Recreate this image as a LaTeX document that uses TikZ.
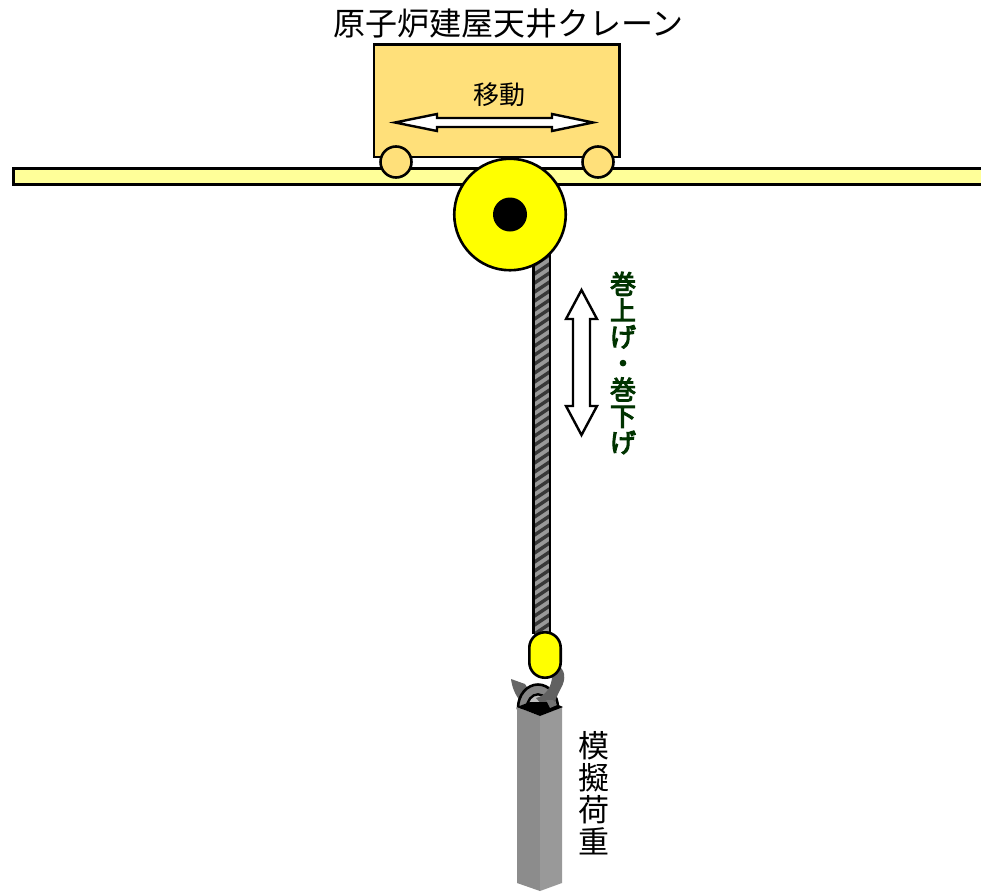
\documentclass[tikz,border=0pt]{standalone}
\usepackage{fontspec}
\setmainfont{Noto Sans CJK JP}
\newfontfamily\greenface[FakeBold=4]{Noto Sans CJK JP}
\tikzset{
  every picture/.style={x=1pt,y=-1pt},
  outl/.style={draw=black,line width=2.6pt,line join=miter},
  rail/.style={draw=black,line width=3pt,fill=railyellow},
  wheelc/.style={outl,fill=cartyellow},
  dblarrow/.style={draw=black,line width=2.4pt,fill=white,line join=miter},
  lab/.style={inner sep=0pt,text=black},
  vlab/.style={inner sep=0pt,align=center},
}
\definecolor{railyellow}{HTML}{FFFF99}
\definecolor{cartyellow}{HTML}{FFE07A}
\definecolor{pure}{HTML}{FFFF00}
\definecolor{dkgreen}{HTML}{003300}
\begin{document}
\begin{tikzpicture}
\useasboundingbox (0,0) rectangle (981,891);
% rail
\path[rail] (13.5,168.5) -- (990,168.5) -- (990,184.5) -- (13.5,184.5) -- cycle;
% cart
\node[outl,fill=cartyellow,minimum width=245.7pt,minimum height=112.2pt,inner sep=0pt,anchor=north west] (cart) at (372.7,43.5) {};
\node[wheelc,circle,minimum size=31pt,inner sep=0pt] (wheelL) at (396,162) {};
\node[wheelc,circle,minimum size=31pt,inner sep=0pt] (wheelR) at (598,162) {};
% rope
\begin{scope}
\clip (534,250) rectangle (550,634);
\fill[black!40] (533,250) rectangle (551,634);
\foreach \k in {0,...,44}{
  \draw[black!78,line width=3.4pt] (530,{250+\k*9}) -- (554,{250+\k*9-16});
}
\end{scope}
\draw[black,line width=2.6pt] (533.5,250) -- (533.5,634) (550,250) -- (550,634);
% drum
\node[outl,circle,fill=pure,minimum size=111.5pt,inner sep=0pt] (drum) at (510,214.5) {};
\node[circle,fill=black,minimum size=34pt,inner sep=0pt] (axle) at (510,214.5) {};
% double arrows
\path[dblarrow] (395,122.5) -- (437,114) -- (437,118) -- (552,118) -- (552,114) -- (593,122.5) -- (552,131) -- (552,127) -- (437,127) -- (437,131) -- cycle;
\path[dblarrow] (581.5,290) -- (597,319) -- (590,319) -- (590,406) -- (597,406) -- (581.5,435) -- (566,406) -- (573,406) -- (573,319) -- (566,319) -- cycle;
% hook barb
\fill[black!60] (511,679) -- (525,684) -- (530,692) -- (521,702) .. controls (515,695) and (512,687) .. (511,679) -- cycle;
% ring
\draw[black,line width=2.6pt,fill=black!48] (518,708) arc[start angle=180,end angle=360,x radius=20,y radius=23.5] -- (549,708) arc[start angle=360,end angle=180,x radius=11,y radius=13.5] -- cycle;
\draw[black,line width=2pt,fill=black!25] (527,708) arc[start angle=180,end angle=360,x radius=11,y radius=13.5] -- cycle;
% hook tail
\fill[black!62] (556,665) .. controls (566,668) and (566,680) .. (561,688) .. controls (557,696) and (554,702) .. (553,710) -- (545,708) -- (536,698) .. controls (546,696) and (552,686) .. (552,676) -- cycle;
% column
\fill[black!45] (517,707) -- (540,716) -- (540,891) -- (517,883) -- cycle;
\fill[black!40] (540,716) -- (562,707) -- (562,883) -- (540,891) -- cycle;
\fill[black] (517,707) -- (530,702) -- (552,702) -- (563,707) -- (540,716) -- cycle;
\fill[black!55] (546,700) -- (553,700) -- (557,705) -- (550,708) -- cycle;
% capsule
\node[outl,fill=pure,rounded corners=15.5pt,minimum width=31.4pt,minimum height=45.4pt,inner sep=0pt] (hookblock) at (545,655) {};
% texts
\node[lab,font=\fontsize{32}{32}\selectfont] (title) at (508.3,24) {原子炉建屋天井クレーン};
\node[lab,font=\fontsize{26}{26}\selectfont] (move) at (499,95) {移動};
\node[vlab,text=dkgreen,font=\fontsize{26}{26.4}\greenface\selectfont] (hoist) at (623,363) {巻\\上\\げ\\・\\巻\\下\\げ};
\node[vlab,text=black,font=\fontsize{31}{32}\selectfont] (load) at (594,793.5) {模\\擬\\荷\\重};
\end{tikzpicture}
\end{document}
